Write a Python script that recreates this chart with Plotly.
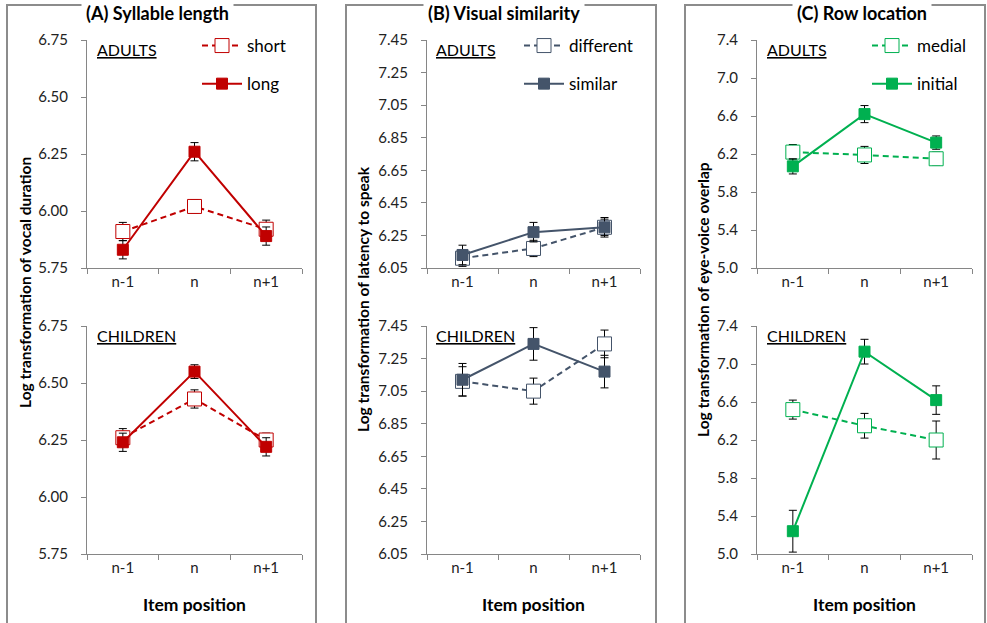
import plotly.graph_objects as go

positions = ["n-1", "n", "n+1"]

# Panel A: Syllable length (log vocal duration)
a_adult_short = [5.91, 6.02, 5.92]
a_adult_short_err = [0.04, 0.03, 0.04]
a_adult_long = [5.83, 6.26, 5.89]
a_adult_long_err = [0.04, 0.04, 0.04]
a_child_short = [6.26, 6.43, 6.25]
a_child_short_err = [0.04, 0.04, 0.03]
a_child_long = [6.24, 6.55, 6.22]
a_child_long_err = [0.04, 0.03, 0.04]

# Panel B: Visual similarity (log latency to speak)
b_adult_diff = [6.11, 6.17, 6.30]
b_adult_diff_err = [0.05, 0.05, 0.05]
b_adult_sim = [6.13, 6.27, 6.30]
b_adult_sim_err = [0.06, 0.06, 0.06]
b_child_diff = [7.11, 7.05, 7.34]
b_child_diff_err = [0.09, 0.08, 0.085]
b_child_sim = [7.12, 7.34, 7.17]
b_child_sim_err = [0.10, 0.10, 0.10]

# Panel C: Row location (log eye-voice overlap)
c_adult_medial = [6.22, 6.19, 6.15]
c_adult_medial_err = [0.08, 0.09, 0.07]
c_adult_initial = [6.07, 6.62, 6.32]
c_adult_initial_err = [0.08, 0.09, 0.07]
c_child_medial = [6.52, 6.35, 6.20]
c_child_medial_err = [0.10, 0.13, 0.20]
c_child_initial = [5.24, 7.13, 6.62]
c_child_initial_err = [0.22, 0.13, 0.15]

y_ranges = {"A": [5.75, 6.75], "B": [6.05, 7.45], "C": [5.0, 7.4]}
y_ticks = {"A": [5.75, 6.00, 6.25, 6.50, 6.75],
           "B": [6.05, 6.25, 6.45, 6.65, 6.85, 7.05, 7.25, 7.45],
           "C": [5.0, 5.4, 5.8, 6.2, 6.6, 7.0, 7.4]}
y_fmt = {"A": ".2f", "B": ".2f", "C": ".1f"}

RED = "#C00000"
BLUE = "#44546A"
GREEN = "#00B050"
AXIS_GREY = "#868686"
FONT = "Lato, 'Open Sans', sans-serif"

W, H = 987, 623

def px_x(v):
    return v / W

def px_y(v):
    return 1 - v / H

x_dom = {"A": [px_x(87), px_x(302)], "B": [px_x(427), px_x(640)], "C": [px_x(757), px_x(972)]}
y_dom_top = [px_y(268), px_y(40)]
y_dom_bot = [px_y(554), px_y(326)]

fig = go.Figure()

panels = [
    ("A", RED, "short", "long",
     (a_adult_short, a_adult_short_err, a_adult_long, a_adult_long_err),
     (a_child_short, a_child_short_err, a_child_long, a_child_long_err), "legend"),
    ("B", BLUE, "different", "similar",
     (b_adult_diff, b_adult_diff_err, b_adult_sim, b_adult_sim_err),
     (b_child_diff, b_child_diff_err, b_child_sim, b_child_sim_err), "legend2"),
    ("C", GREEN, "medial", "initial",
     (c_adult_medial, c_adult_medial_err, c_adult_initial, c_adult_initial_err),
     (c_child_medial, c_child_medial_err, c_child_initial, c_child_initial_err), "legend3"),
]

layout_axes = {}
annotations = []
shapes = []
idx = 0
for key, color, open_name, fill_name, adult, child, leg in panels:
    for row, data in enumerate([adult, child]):
        idx += 1
        xa = "x" if idx == 1 else f"x{idx}"
        ya = "y" if idx == 1 else f"y{idx}"
        o_vals, o_err, f_vals, f_err = data
        show = row == 0
        fig.add_trace(go.Scatter(
            x=positions, y=o_vals, xaxis=xa, yaxis=ya,
            mode="lines+markers", name=open_name,
            line=dict(color=color, width=2, dash="6px,4px"),
            marker=dict(symbol="square", size=14, color="white",
                        line=dict(color=color, width=1)),
            error_y=dict(type="data", array=o_err, color="black",
                         thickness=1, width=4),
            showlegend=show, legend=leg, legendgroup=key + open_name,
        ))
        fig.add_trace(go.Scatter(
            x=positions, y=f_vals, xaxis=xa, yaxis=ya,
            mode="lines+markers", name=fill_name,
            line=dict(color=color, width=2),
            marker=dict(symbol="square", size=11, color=color,
                        line=dict(color=color, width=1)),
            error_y=dict(type="data", array=f_err, color="black",
                         thickness=1, width=4),
            showlegend=show, legend=leg, legendgroup=key + fill_name,
        ))
        xname = "xaxis" if idx == 1 else f"xaxis{idx}"
        yname = "yaxis" if idx == 1 else f"yaxis{idx}"
        layout_axes[xname] = dict(
            domain=x_dom[key], anchor=ya, type="category",
            range=[-0.5, 2.5], tickson="boundaries",
            ticks="outside", ticklen=5, tickcolor=AXIS_GREY,
            showline=True, linecolor=AXIS_GREY, linewidth=1,
            showgrid=False, zeroline=False, fixedrange=True, automargin=False,
            tickfont=dict(family=FONT, size=15, color="#222"),
        )
        layout_axes[yname] = dict(
            domain=y_dom_top if row == 0 else y_dom_bot, anchor=xa,
            range=y_ranges[key], tickvals=y_ticks[key], tickformat=y_fmt[key],
            ticks="outside", ticklen=5, tickcolor=AXIS_GREY,
            showline=True, linecolor=AXIS_GREY, linewidth=1,
            showgrid=False, zeroline=False, ticklabelstandoff=10, automargin=False,
            tickfont=dict(family=FONT, size=15, color="#222"),
        )
        annotations.append(dict(
            text="<u>ADULTS</u>" if row == 0 else "<u>CHILDREN</u>",
            xref=f"{xa} domain", yref=f"{ya} domain",
            x=0.035, y=0.96, xanchor="left", yanchor="middle",
            showarrow=False, font=dict(family=FONT, size=16, color="black"),
        ))

fig.update_layout(**layout_axes)

# Panel frames, titles, axis titles
frames = {"A": (7, 316), "B": (346, 656), "C": (685, 985)}
titles = {"A": ("(A) Syllable length", 157), "B": ("(B) Visual similarity", 504),
          "C": ("(C) Row location", 862)}
ytitles = {"A": ("Log transformation of vocal duration", 25, 283),
           "B": ("Log transformation of latency to speak", 363, 299),
           "C": ("Log transformation of eye-voice overlap", 703, 300)}
for key in ["A", "B", "C"]:
    x0, x1 = frames[key]
    shapes.append(dict(type="rect", xref="paper", yref="paper",
                       x0=px_x(x0), x1=px_x(x1), y0=-0.05, y1=px_y(5),
                       line=dict(color="#8c8c8c", width=2), layer="below"))
    t, tx = titles[key]
    annotations.append(dict(text=f"<b>{t}</b>", xref="paper", yref="paper",
                            x=px_x(tx), y=px_y(13), xanchor="center", yanchor="middle",
                            showarrow=False, bgcolor="white", borderpad=4,
                            font=dict(family=FONT, size=18, color="black")))
    yt, yx, yy = ytitles[key]
    annotations.append(dict(text=f"<b>{yt}</b>", xref="paper", yref="paper",
                            x=px_x(yx), y=px_y(yy), xanchor="center", yanchor="middle",
                            textangle=-90, showarrow=False,
                            font=dict(family=FONT, size=15.5, color="black")))
    cx = (x_dom[key][0] + x_dom[key][1]) / 2
    annotations.append(dict(text="<b>Item position</b>", xref="paper", yref="paper",
                            x=cx, y=px_y(604), xanchor="center", yanchor="middle",
                            showarrow=False,
                            font=dict(family=FONT, size=17.5, color="black")))

legend_common = dict(bgcolor="rgba(0,0,0,0)", borderwidth=0, tracegroupgap=13,
                     font=dict(family=FONT, size=17, color="black"),
                     xanchor="left", yanchor="top", itemwidth=40)

fig.update_layout(
    width=W, height=H, margin=dict(l=0, r=0, t=0, b=0, pad=0, autoexpand=False),
    paper_bgcolor="white", plot_bgcolor="white",
    annotations=annotations, shapes=shapes,
    legend=dict(x=px_x(197), y=px_y(28), **legend_common),
    legend2=dict(x=px_x(519), y=px_y(28), **legend_common),
    legend3=dict(x=px_x(867), y=px_y(28), **legend_common),
)

fig.write_html("out.html", config={"displayModeBar": False},
               post_script="document.body.style.margin='0';document.body.style.overflow='hidden';")
